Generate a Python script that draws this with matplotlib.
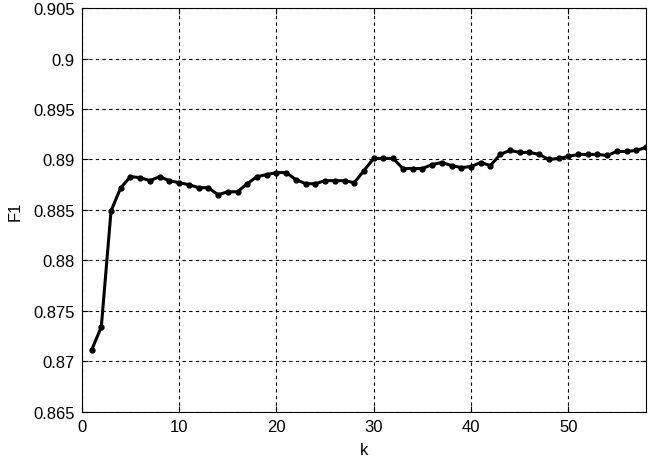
import matplotlib
matplotlib.use("Agg")
import matplotlib.pyplot as plt

k = list(range(1, 59))
f1 = [0.8711, 0.8734, 0.8849, 0.8872, 0.8883, 0.8882, 0.8879, 0.8883, 0.8879, 0.8877,
      0.8875, 0.8872, 0.8872, 0.8865, 0.8868, 0.8868, 0.8876, 0.8883, 0.8885, 0.8887,
      0.8887, 0.8880, 0.8876, 0.8876, 0.8879, 0.8879, 0.8879, 0.8877, 0.8889, 0.8901,
      0.8901, 0.8901, 0.8891, 0.8891, 0.8891, 0.8895, 0.8897, 0.8894, 0.8892, 0.8893,
      0.8897, 0.8894, 0.8905, 0.8909, 0.8907, 0.8907, 0.8905, 0.8900, 0.8901, 0.8903,
      0.8905, 0.8905, 0.8905, 0.8904, 0.8908, 0.8908, 0.8909, 0.8912]
xticks = [0, 10, 20, 30, 40, 50]
yticks = [0.865, 0.87, 0.875, 0.88, 0.885, 0.89, 0.895, 0.9, 0.905]
ytick_labels = ["0.865", "0.87", "0.875", "0.88", "0.885", "0.89", "0.895", "0.9", "0.905"]

plt.rcParams['font.family'] = ['Liberation Sans', 'DejaVu Sans']
fig = plt.figure(figsize=(6.6, 4.6), dpi=100)
ax = fig.add_axes([0.124, 0.103, 0.855, 0.877])
ax.plot(k, f1, color='black', linewidth=2.2, marker='o', markersize=3.5)
ax.set_xlim(0, 58)
ax.set_ylim(0.865, 0.905)
ax.set_xticks(xticks)
ax.set_yticks(yticks)
ax.set_yticklabels(ytick_labels)
ax.grid(True, linestyle=(0, (3, 3)), color='black', linewidth=0.8)
ax.tick_params(direction='in', top=True, right=True, labelsize=12, length=4, pad=5)
for s in ax.spines.values():
    s.set_linewidth(0.8)
ax.set_xlabel('k', fontsize=12, labelpad=6)
ax.set_ylabel('F1', fontsize=12, labelpad=8)
fig.savefig('out.png', dpi=100)
